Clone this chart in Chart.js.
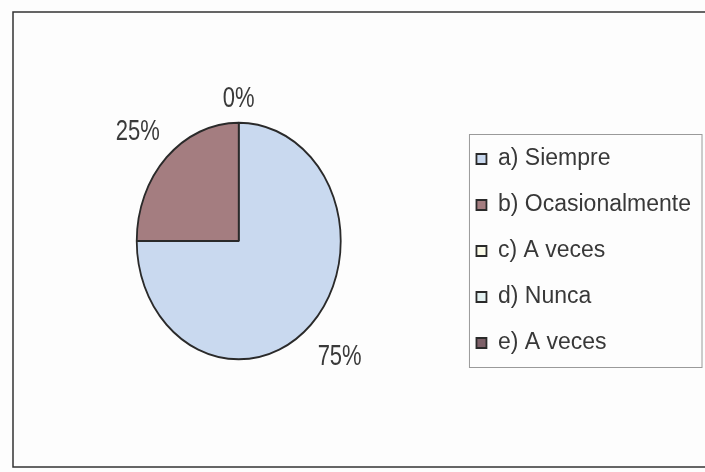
<!DOCTYPE html>
<html>
<head>
<meta charset="utf-8">
<script src="https://cdn.jsdelivr.net/npm/chart.js@4.4.0/dist/chart.umd.min.js"></script>
<style>
  html, body { margin: 0; padding: 0; background: #fff; }
  #wrap { width: 705px; height: 472px; }
</style>
</head>
<body>
<div id="wrap"><canvas id="chart" width="705" height="472"></canvas></div>
<script>
// Datos del gráfico
const categories = ["a) Siempre", "b) Ocasionalmente", "c) A veces", "d) Nunca", "e) A veces"];
const values = [75, 25, 0, 0, 0];
const percentLabels = ["75%", "25%", "0%", "0%", "0%"];
const sliceColors = ["#c9d9ef", "#a47d80", "#fbfbe8", "#e4f2f2", "#7d6068"];

const FONT = '"Liberation Sans", Arial, sans-serif';
// la torta del original es un poco ovalada y queda algo más arriba que la leyenda
const STRETCH_Y = 1.16;
const PIE_SHIFT_Y = -10;
// el texto del original es angosto y alto
const TEXT_STRETCH_Y = 1.3;

// Marco y fondo de la imagen
const framePlugin = {
  id: "frame",
  beforeDraw(chart) {
    const ctx = chart.ctx;
    ctx.save();
    ctx.fillStyle = "#fdfdfd";
    ctx.fillRect(0, 0, chart.width, chart.height);
    ctx.strokeStyle = "#333";
    ctx.lineWidth = 1.5;
    ctx.strokeRect(13, 12, chart.width, chart.height - 17);
    ctx.restore();
  },
};

// Estirar la torta en vertical y poner los porcentajes afuera
const ovalPlugin = {
  id: "oval",
  beforeDatasetsDraw(chart) {
    const arc = chart.getDatasetMeta(0).data[0];
    const ctx = chart.ctx;
    ctx.save();
    ctx.translate(arc.x, arc.y + PIE_SHIFT_Y);
    ctx.scale(1, STRETCH_Y);
    ctx.translate(-arc.x, -arc.y);
  },
  afterDatasetsDraw(chart) {
    const ctx = chart.ctx;
    ctx.restore();
    const meta = chart.getDatasetMeta(0);
    ctx.save();
    ctx.font = "22px " + FONT;
    ctx.fillStyle = "#3a3a3a";
    ctx.textAlign = "center";
    ctx.textBaseline = "middle";
    const drawn = [];
    meta.data.forEach((arc, i) => {
      const p = arc.getProps(["x", "y", "startAngle", "endAngle", "outerRadius"], true);
      const mid = (p.startAngle + p.endAngle) / 2;
      const c = Math.cos(mid), s = Math.sin(mid);
      const d = 28 + 18 * Math.abs(c);
      const x = p.x + (p.outerRadius + d) * c;
      const y = p.y + PIE_SHIFT_Y + 4 + (p.outerRadius * STRETCH_Y + d) * s;
      // los sectores de 0% caen en el mismo lugar, se escribe uno solo
      const key = Math.round(x) + "," + Math.round(y);
      if (drawn.includes(key)) return;
      drawn.push(key);
      ctx.save();
      ctx.translate(x, y);
      ctx.scale(1, TEXT_STRETCH_Y);
      ctx.fillText(percentLabels[i], 0, 0);
      ctx.restore();
    });
    ctx.restore();
  },
};

// Recuadro de la leyenda
const legendBoxPlugin = {
  id: "legendBox",
  afterDraw(chart) {
    const boxes = chart.legend.legendHitBoxes;
    if (!boxes || !boxes.length) return;
    let l = Infinity, t = Infinity, r = -Infinity, b = -Infinity;
    boxes.forEach((h) => {
      l = Math.min(l, h.left);
      t = Math.min(t, h.top);
      r = Math.max(r, h.left + h.width);
      b = Math.max(b, h.top + h.height);
    });
    const ctx = chart.ctx;
    ctx.save();
    ctx.strokeStyle = "#9a9a9a";
    ctx.lineWidth = 1;
    ctx.strokeRect(l - 7, t - 13, r - l + 18, b - t + 26);
    ctx.restore();
  },
};

new Chart(document.getElementById("chart"), {
  type: "pie",
  plugins: [framePlugin, ovalPlugin, legendBoxPlugin],
  data: {
    labels: categories,
    datasets: [
      {
        data: values,
        backgroundColor: sliceColors,
        borderColor: "#2a2a2a",
        borderWidth: 1.8,
        radius: 102,
      },
    ],
  },
  options: {
    responsive: false,
    animation: false,
    layout: { padding: { left: 24, right: 4, top: 36, bottom: 6 } },
    plugins: {
      tooltip: { enabled: false },
      legend: {
        position: "right",
        labels: {
          font: { family: FONT, size: 23 },
          color: "#383838",
          boxWidth: 10,
          boxHeight: 10,
          padding: 23,
        },
      },
    },
  },
});
</script>
</body>
</html>
